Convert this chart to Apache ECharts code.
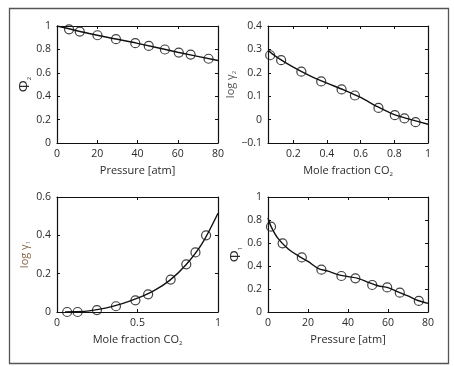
<!DOCTYPE html>
<html><head><meta charset="utf-8">
<script src="https://cdn.jsdelivr.net/npm/echarts@6/dist/echarts.min.js"></script>
<style>html,body{margin:0;padding:0;background:#fff}#c{width:454px;height:366px}</style>
</head><body><div id="c"></div>
<script>
// Panel 1: Phi2 vs pressure
const p1X = [6.0, 11.3, 20.1, 29.3, 38.9, 45.6, 53.6, 60.5, 66.4, 75.3];
const p1Y = [0.972, 0.952, 0.921, 0.887, 0.853, 0.830, 0.799, 0.773, 0.756, 0.720];
const p1FitX = [0, 20, 40, 60, 80];
const p1FitY = [1.0, 0.921, 0.852, 0.776, 0.705];
// Panel 2: log gamma2 vs mole fraction CO2
const xCO2 = [0.063, 0.128, 0.248, 0.366, 0.487, 0.566, 0.706, 0.803, 0.86, 0.926];
const logG2 = [0.275, 0.254, 0.205, 0.163, 0.129, 0.103, 0.050, 0.019, 0.005, -0.011];
const fit2X = [0.05, 0.1, 0.2, 0.3, 0.4, 0.5, 0.6, 0.7, 0.8, 0.9, 1.0];
const fit2Y = [0.295, 0.268, 0.224, 0.187, 0.156, 0.127, 0.095, 0.055, 0.021, 0.0, -0.02];
// Panel 3: log gamma1 vs mole fraction CO2
const logG1 = [0.0, 0.0, 0.010, 0.030, 0.061, 0.092, 0.169, 0.249, 0.311, 0.400];
const fit3X = [0.05, 0.1, 0.2, 0.3, 0.4, 0.5, 0.6, 0.7, 0.8, 0.9, 1.0];
const fit3Y = [0.0, 0.001, 0.006, 0.02, 0.042, 0.072, 0.11, 0.165, 0.245, 0.355, 0.515];
// Panel 4: Phi1 vs pressure
const p4X = [1.5, 7.3, 16.9, 26.7, 36.7, 43.7, 52.1, 59.6, 65.9, 75.4];
const p4Y = [0.742, 0.597, 0.475, 0.368, 0.313, 0.293, 0.235, 0.214, 0.168, 0.096];
const fit4X = [0, 1.5, 5, 10, 15, 20, 25, 30, 35, 40, 45, 50, 55, 60, 65, 70, 75, 80];
const fit4Y = [0.82, 0.745, 0.64, 0.55, 0.49, 0.44, 0.38, 0.355, 0.325, 0.308, 0.293, 0.258, 0.228, 0.212, 0.175, 0.14, 0.1, 0.075];
// tick labels
const co2TopTicks = [0.2, 0.4, 0.6, 0.8, 1];

const zip = (a, b) => a.map((v, i) => [v, b[i]]);
const FONT = '"Open Sans", "Noto Sans", sans-serif';
const TXT = '#2a2a2a';

const grids = [
  {left: 57, top: 26, width: 161, height: 117},
  {left: 268, top: 26, width: 160, height: 117},
  {left: 57, top: 197, width: 161, height: 115},
  {left: 268, top: 197, width: 160, height: 115}
];

const axLine = {show: true, onZero: false, lineStyle: {color: '#111', width: 1.2}};
const tick = {show: true, inside: true, length: 3, lineStyle: {color: '#111', width: 1}};
const lbl = {color: TXT, fontSize: 10.5, fontFamily: FONT, margin: 6};
const nameRich = {
  n: {fontSize: 11, fontFamily: FONT, color: TXT},
  s: {fontSize: 6, fontFamily: FONT, color: TXT, verticalAlign: 'bottom', padding: [6, 0, 0, 0]},
  p: {fontSize: 15, fontFamily: FONT, color: TXT},
  g: {fontSize: 11, fontFamily: FONT, color: '#555'},
  gs: {fontSize: 6, fontFamily: FONT, color: '#555', padding: [6, 0, 0, 0]},
  b: {fontSize: 11, fontFamily: FONT, color: '#8a6a4a'},
  bs: {fontSize: 6, fontFamily: FONT, color: '#8a6a4a', padding: [6, 0, 0, 0]}
};

function xAx(gi, min, max, interval, name, extra) {
  return Object.assign({
    type: 'value', gridIndex: gi, min, max, interval, position: 'bottom',
    name, nameLocation: 'middle', nameGap: 22,
    nameTextStyle: {rich: nameRich},
    axisLine: axLine, axisTick: tick, axisLabel: lbl, splitLine: {show: false}
  }, extra || {});
}
function yAx(gi, min, max, interval, name, gap, extra) {
  return Object.assign({
    type: 'value', gridIndex: gi, min, max, interval, position: 'left',
    name, nameLocation: 'middle', nameGap: gap, nameRotate: 90,
    nameTextStyle: {rich: nameRich},
    axisLine: axLine, axisTick: tick, axisLabel: lbl, splitLine: {show: false}
  }, extra || {});
}
function topAx(gi, min, max, interval, extra) {
  return Object.assign({
    type: 'value', gridIndex: gi, min, max, interval, position: 'top',
    axisLine: axLine, axisTick: tick, axisLabel: {show: false}, splitLine: {show: false}
  }, extra || {});
}
function rightAx(gi, min, max, interval) {
  return {
    type: 'value', gridIndex: gi, min, max, interval, position: 'right',
    axisLine: axLine, axisTick: tick, axisLabel: {show: false}, splitLine: {show: false}
  };
}

const minusFmt = v => (v < 0 ? '\u2212' + String(-v) : String(v));

const xAxis = [
  xAx(0, 0, 80, 20, '{n|Pressure [atm]}'),
  xAx(1, 0.05, 1, 0.2, '{n|Mole fraction CO}{s|2}', {
    axisTick: Object.assign({}, tick, {customValues: co2TopTicks}),
    axisLabel: Object.assign({}, lbl, {customValues: co2TopTicks})
  }),
  xAx(2, 0, 1, 0.5, '{n|Mole fraction CO}{s|2}'),
  xAx(3, 0, 80, 20, '{n|Pressure [atm]}'),
  topAx(0, 0, 80, 20),
  topAx(1, 0.05, 1, 0.2, {axisTick: Object.assign({}, tick, {customValues: co2TopTicks})}),
  topAx(2, 0, 1, 0.5),
  topAx(3, 0, 80, 20)
];
const yAxis = [
  yAx(0, 0, 1, 0.2, '{p|\u03A6}{s|2}', 25),
  yAx(1, -0.1, 0.4, 0.1, '{g|log \u03B3}{gs|2}', 26, {axisLabel: Object.assign({}, lbl, {formatter: minusFmt})}),
  yAx(2, 0, 0.6, 0.2, '{b|log \u03B3}{bs|1}', 26),
  yAx(3, 0, 1, 0.2, '{p|\u03A6}{s|1}', 25),
  rightAx(0, 0, 1, 0.2),
  rightAx(1, -0.1, 0.4, 0.1),
  rightAx(2, 0, 0.6, 0.2),
  rightAx(3, 0, 1, 0.2)
];

function lineS(i, xs, ys) {
  return {type: 'line', xAxisIndex: i, yAxisIndex: i, data: zip(xs, ys), smooth: 0.3,
    symbol: 'none', lineStyle: {color: '#111', width: 1.4}, z: 2, silent: true};
}
function ptS(i, xs, ys) {
  return {type: 'scatter', xAxisIndex: i, yAxisIndex: i, data: zip(xs, ys),
    symbol: 'circle', symbolSize: 9,
    itemStyle: {color: 'rgba(255,255,255,0)', borderColor: '#111', borderWidth: 1.2}, z: 3, silent: true};
}

const series = [
  lineS(0, p1FitX, p1FitY), ptS(0, p1X, p1Y),
  lineS(1, fit2X, fit2Y), ptS(1, xCO2, logG2),
  lineS(2, fit3X, fit3Y), ptS(2, xCO2, logG1),
  lineS(3, fit4X, fit4Y), ptS(3, p4X, p4Y)
];

const chart = echarts.init(document.getElementById('c'), null, {renderer: 'canvas'});
chart.setOption({
  backgroundColor: '#fff',
  animation: false,
  grid: grids,
  xAxis, yAxis, series,
  graphic: [{
    type: 'rect', left: 7, top: 6, shape: {x: 0, y: 0, width: 439, height: 355},
    style: {fill: 'none', stroke: '#555', lineWidth: 1.3}, silent: true, z: -1
  }]
});
</script>
</body></html>
